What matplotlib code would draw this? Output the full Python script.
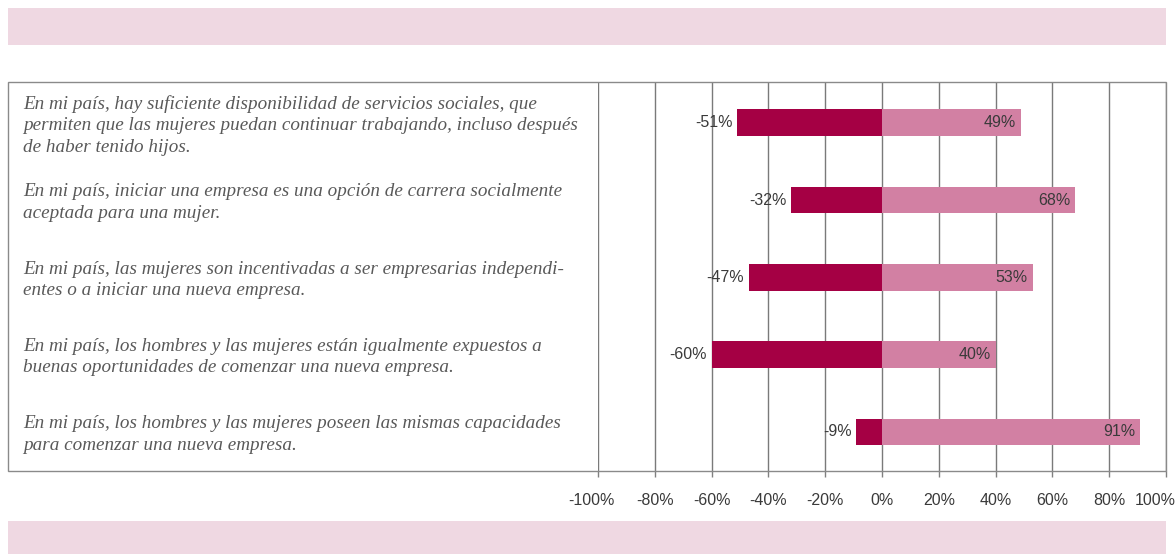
import matplotlib
matplotlib.use("Agg")
import matplotlib.pyplot as plt
from matplotlib.patches import Rectangle
from matplotlib.transforms import ScaledTranslation, blended_transform_factory

statements = [
    "En mi país, hay suficiente disponibilidad de servicios sociales, que\npermiten que las mujeres puedan continuar trabajando, incluso después\nde haber tenido hijos.",
    "En mi país, iniciar una empresa es una opción de carrera socialmente\naceptada para una mujer.",
    "En mi país, las mujeres son incentivadas a ser empresarias independi-\nentes o a iniciar una nueva empresa.",
    "En mi país, los hombres y las mujeres están igualmente expuestos a\nbuenas oportunidades de comenzar una nueva empresa.",
    "En mi país, los hombres y las mujeres poseen las mismas capacidades\npara comenzar una nueva empresa.",
]
negative = [-51, -32, -47, -60, -9]
positive = [49, 68, 53, 40, 91]
ticks = [-100, -80, -60, -40, -20, 0, 20, 40, 60, 80, 100]
tick_labels = ["-100%", "-80%", "-60%", "-40%", "-20%", "0%", "20%", "40%", "60%", "80%", "100%"]

W, H = 1176, 554
fig = plt.figure(figsize=(W / 100, H / 100), dpi=100)
fig.patch.set_facecolor("white")

def fx(px):
    return px / W

def fy(py):
    return 1 - py / H

band = "#EFD8E2"
fig.patches.append(Rectangle((fx(8), fy(45)), fx(1166) - fx(8), fy(8) - fy(45),
                             transform=fig.transFigure, facecolor=band, edgecolor="none", zorder=0))
fig.patches.append(Rectangle((fx(8), fy(554)), fx(1166) - fx(8), fy(521) - fy(554),
                             transform=fig.transFigure, facecolor=band, edgecolor="none", zorder=0))

ax = fig.add_axes([fx(598), fy(471), fx(1166) - fx(598), fy(82) - fy(471)])
ax.patch.set_visible(False)
ax.set_xlim(-100, 100)
ax.set_ylim(4.505, -0.527)

ypos = list(range(len(statements)))
dark = "#A50044"
light = "#D280A3"
ax.barh(ypos, negative, height=0.345, color=dark, edgecolor="none", zorder=3)
ax.barh(ypos, positive, height=0.345, color=light, edgecolor="none", zorder=3)

for y, v in zip(ypos, negative):
    ax.annotate(f"{v}%", (v, y), xytext=(-3.5, 0), textcoords="offset points",
                ha="right", va="center", fontsize=11.5, color="#3a3a3a",
                family="Liberation Sans", zorder=4)
for y, v in zip(ypos, positive):
    ax.annotate(f"{v}%", (v, y), xytext=(-3.5, 0), textcoords="offset points",
                ha="right", va="center", fontsize=11.5, color="#3a3a3a",
                family="Liberation Sans", zorder=4)

ax.set_xticks(ticks)
ax.set_xticklabels(tick_labels, fontsize=11.5, color="#3a3a3a", family="Liberation Sans")
ax.set_yticks([])
ax.tick_params(axis="x", length=4, width=1, color="#808080", direction="out", pad=12)
ax.grid(axis="x", color="#7a7a7a", linewidth=1.0, zorder=1)
for s in ax.spines.values():
    s.set_visible(False)

labs = ax.get_xticklabels()
labs[0].set_transform(labs[0].get_transform() + ScaledTranslation(-7 / 100, 0, fig.dpi_scale_trans))
labs[-1].set_transform(labs[-1].get_transform() + ScaledTranslation(-11 / 100, 0, fig.dpi_scale_trans))

fig.patches.append(Rectangle((fx(8), fy(471)), fx(1166) - fx(8), fy(82) - fy(471),
                             transform=fig.transFigure, facecolor="none", edgecolor="#8a8a8a",
                             linewidth=1.0, zorder=5))

trans = blended_transform_factory(fig.transFigure, ax.transData) + \
    ScaledTranslation(0, -2.5 / 100, fig.dpi_scale_trans)
for y, s in zip(ypos, statements):
    fig.text(fx(23), y, s, transform=trans, ha="left", va="center", fontsize=13.8,
             family="Liberation Serif", style="italic", color="#595959", linespacing=1.35)

fig.savefig("out.png", dpi=100)
